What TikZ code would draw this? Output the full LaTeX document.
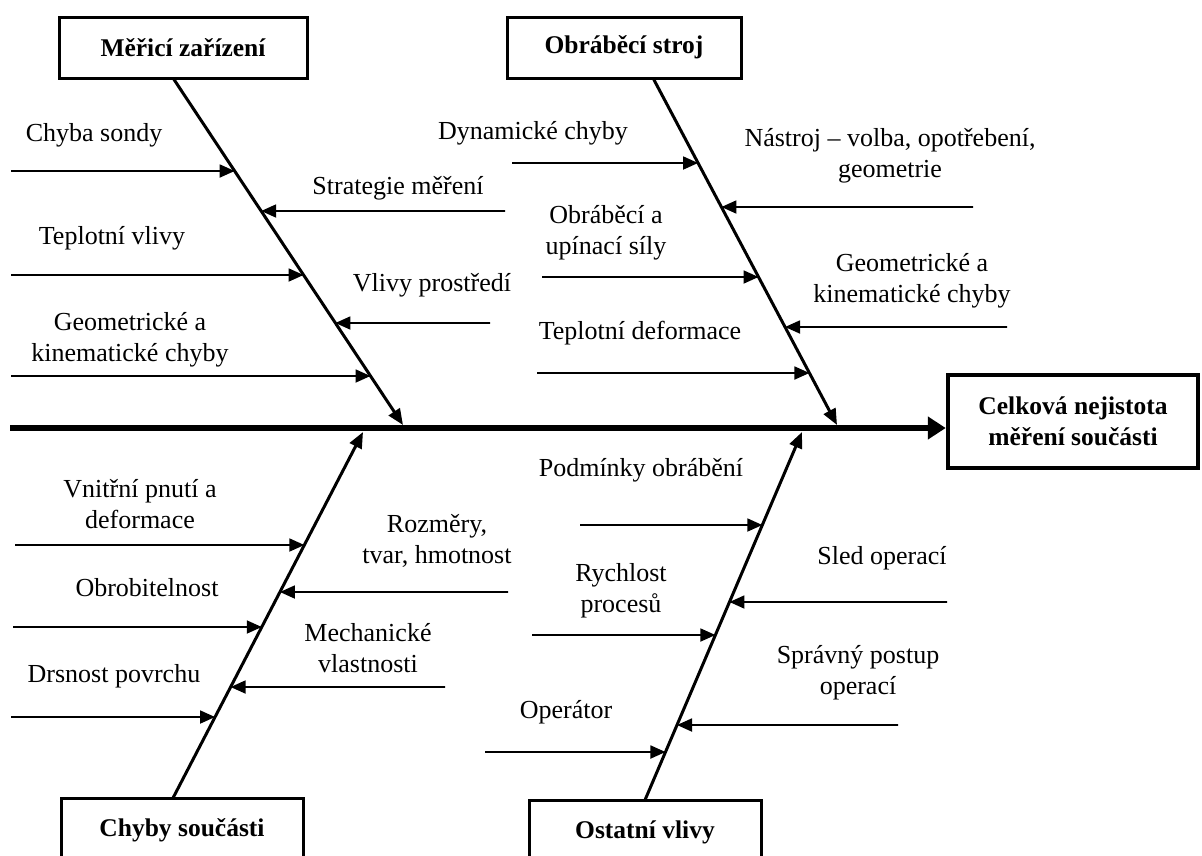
\documentclass[tikz,border=0pt]{standalone}
\usepackage{fontspec}
\setmainfont{Liberation Serif}
\usetikzlibrary{arrows.meta,calc}
\begin{document}
\begin{tikzpicture}[x=1pt,y=-1pt,
  lbl/.style={align=center,font=\fontsize{26}{31}\selectfont,inner sep=0pt},
  box/.style={draw,line width=3pt,font=\bfseries\fontsize{25.5}{31}\selectfont,align=center,inner sep=0pt},
  bone/.style={line width=3pt,-{Triangle[length=16pt,width=13pt]}},
  sub/.style={line width=1.8pt,-{Triangle[length=15pt,width=13pt]}},
  spine/.style={line width=5.5pt,-{Triangle[length=18pt,width=22pt]}}]
\fill[white] (0,0) rectangle (1202,855);
\useasboundingbox (0,0) rectangle (1202,855);

% boxes
\node[box,minimum width=248pt,minimum height=61pt] (b1) at (183,47.5) {Měřicí zařízení};
\node[box,minimum width=234pt,minimum height=61pt] (b2) at (624,47.5) {Obráběcí stroj};
\node[box,line width=4.5pt,minimum width=250pt,minimum height=93pt] (eff) at (1073,421.5) {Celková nejistota\\měření součásti};
\node[box,minimum width=242pt,minimum height=64pt] (b3) at (182,830) {Chyby součásti};
\node[box,minimum width=232pt,minimum height=64pt] (b4) at (645,832) {Ostatní vlivy};

% spine
\coordinate (s0) at (10,428);
\draw[spine] (s0) -- (s0 -| eff.west);

% bones
\coordinate (tlA) at (173,78);  \coordinate (tlB) at (403,425);
\coordinate (trA) at (653,78);  \coordinate (trB) at (837,425);
\coordinate (blA) at (173,798); \coordinate (blB) at (363,432);
\coordinate (brA) at (645,800); \coordinate (brB) at (802,432);
\draw[bone] (tlA) -- (tlB);
\draw[bone] (trA) -- (trB);
\draw[bone] (blA) -- (blB);
\draw[bone] (brA) -- (brB);

% top-left sub causes
\coordinate (tl1) at (11,171);
\coordinate (tl2) at (505,211);
\coordinate (tl3) at (11,275);
\coordinate (tl4) at (490,323);
\coordinate (tl5) at (11,376);
\draw[sub] (tl1) -- ($(tlA)!{(171-78)/347}!(tlB)$);
\draw[sub] (tl2) -- ($(tlA)!{(211-78)/347}!(tlB)$);
\draw[sub] (tl3) -- ($(tlA)!{(275-78)/347}!(tlB)$);
\draw[sub] (tl4) -- ($(tlA)!{(323-78)/347}!(tlB)$);
\draw[sub] (tl5) -- ($(tlA)!{(376-78)/347}!(tlB)$);
\node[lbl] (ttl1) at (94,135) {Chyba sondy};
\node[lbl] (ttl2) at (398,188) {Strategie měření};
\node[lbl] (ttl3) at (112,238) {Teplotní vlivy};
\node[lbl] (ttl4) at (432,285) {Vlivy prostředí};
\node[lbl] (ttl5) at (130,340) {Geometrické a\\kinematické chyby};

% top-right sub causes
\coordinate (tr1) at (512,163);
\coordinate (tr2) at (973,207);
\coordinate (tr3) at (542,277);
\coordinate (tr4) at (1007,327);
\coordinate (tr5) at (537,373);
\draw[sub] (tr1) -- ($(trA)!{(163-78)/347}!(trB)$);
\draw[sub] (tr2) -- ($(trA)!{(207-78)/347}!(trB)$);
\draw[sub] (tr3) -- ($(trA)!{(277-78)/347}!(trB)$);
\draw[sub] (tr4) -- ($(trA)!{(327-78)/347}!(trB)$);
\draw[sub] (tr5) -- ($(trA)!{(373-78)/347}!(trB)$);
\node[lbl] (ttr1) at (533,133) {Dynamické chyby};
\node[lbl] (ttr2) at (890,156) {Nástroj – volba, opotřebení,\\geometrie};
\node[lbl] (ttr3) at (606,233) {Obráběcí a\\upínací síly};
\node[lbl] (ttr4) at (912,281) {Geometrické a\\kinematické chyby};
\node[lbl] (ttr5) at (640,333) {Teplotní deformace};

% bottom-left sub causes
\coordinate (bl1) at (15,545);
\coordinate (bl2) at (508,592);
\coordinate (bl3) at (13,627);
\coordinate (bl4) at (445,687);
\coordinate (bl5) at (11,717);
\draw[sub] (bl1) -- ($(blA)!{(798-545)/366}!(blB)$);
\draw[sub] (bl2) -- ($(blA)!{(798-592)/366}!(blB)$);
\draw[sub] (bl3) -- ($(blA)!{(798-627)/366}!(blB)$);
\draw[sub] (bl4) -- ($(blA)!{(798-687)/366}!(blB)$);
\draw[sub] (bl5) -- ($(blA)!{(798-717)/366}!(blB)$);
\node[lbl] (tbl1) at (140,504) {Vnitřní pnutí a\\deformace};
\node[lbl] (tbl2) at (437,541) {Rozměry,\\tvar, hmotnost};
\node[lbl] (tbl3) at (147,588) {Obrobitelnost};
\node[lbl] (tbl4) at (368,648) {Mechanické\\vlastnosti};
\node[lbl] (tbl5) at (114,676) {Drsnost povrchu};

% bottom-right sub causes
\coordinate (br1) at (580,525);
\coordinate (br2) at (947,602);
\coordinate (br3) at (532,635);
\coordinate (br4) at (898,725);
\coordinate (br5) at (485,752);
\draw[sub] (br1) -- ($(brA)!{(800-525)/368}!(brB)$);
\draw[sub] (br2) -- ($(brA)!{(800-602)/368}!(brB)$);
\draw[sub] (br3) -- ($(brA)!{(800-635)/368}!(brB)$);
\draw[sub] (br4) -- ($(brA)!{(800-725)/368}!(brB)$);
\draw[sub] (br5) -- ($(brA)!{(800-752)/368}!(brB)$);
\node[lbl] (tbr1) at (641,470) {Podmínky obrábění};
\node[lbl] (tbr2) at (882,558) {Sled operací};
\node[lbl] (tbr3) at (621,591) {Rychlost\\procesů};
\node[lbl] (tbr4) at (858,673) {Správný postup\\operací};
\node[lbl] (tbr5) at (566,712) {Operátor};
\end{tikzpicture}
\end{document}
